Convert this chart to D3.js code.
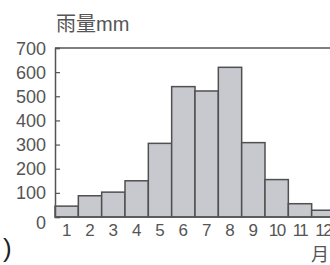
<!DOCTYPE html>
<html>
<head>
<meta charset="utf-8">
<script src="https://cdn.jsdelivr.net/npm/d3@7"></script>
<style>
  body { margin: 0; background: #fff; }
  text { font-family: "Liberation Sans", "Noto Sans CJK JP", sans-serif; fill: #555; }
</style>
</head>
<body>
<div id="chart"></div>
<script>
// monthly rainfall (mm)
var months = ["1","2","3","4","5","6","7","8","9","10","11","12"];
var rain = [45, 88, 103, 150, 305, 540, 522, 620, 308, 155, 55, 28];
var yTicks = [0, 100, 200, 300, 400, 500, 600, 700];

var margin = {top: 48, right: -5, bottom: 48, left: 55},
    W = 330, H = 265,
    width = W - margin.left - margin.right,
    height = H - margin.top - margin.bottom;

var svg = d3.select("#chart").append("svg")
  .attr("width", W).attr("height", H);

var g = svg.append("g")
  .attr("transform", "translate(" + margin.left + "," + margin.top + ")");

var x = d3.scaleBand().domain(months).range([0, width]).padding(0);
var y = d3.scaleLinear().domain([0, 700]).range([height, 0]);

// bars
g.selectAll("rect.bar")
  .data(rain)
  .enter()
  .append("rect")
  .attr("class", "bar")
  .attr("x", function(d, i){ return x(months[i]); })
  .attr("y", function(d){ return y(d); })
  .attr("width", x.bandwidth())
  .attr("height", function(d){ return height - y(d); })
  .style("fill", "#c8c9cf")
  .style("stroke", "#505050")
  .style("stroke-width", 1.5);

// frame: top line, bottom line
g.append("line").attr("x1", 0).attr("x2", width + 10).attr("y1", y(700)).attr("y2", y(700))
  .style("stroke", "#555").style("stroke-width", 1.5);
g.append("line").attr("x1", 0).attr("x2", width + 10).attr("y1", y(0)).attr("y2", y(0))
  .style("stroke", "#555").style("stroke-width", 1.5);

var yAxis = d3.axisLeft(y).tickValues(yTicks).tickSize(-5).tickPadding(9);
var ya = g.append("g").call(yAxis);
ya.select(".domain").style("stroke", "#555").style("stroke-width", 1.5);
ya.selectAll(".tick line").style("stroke", "#555").style("stroke-width", 1.2);
ya.selectAll(".tick text")
  .style("font-size", "18px")
  .style("fill", "#555")
  .attr("dy", function(d){ return d === 0 ? "0.62em" : "0.34em"; });

// month labels
g.selectAll("text.mon")
  .data(months)
  .enter()
  .append("text")
  .attr("class", "mon")
  .attr("x", function(d){ return x(d) + x.bandwidth() / 2; })
  .attr("y", height + 19)
  .attr("text-anchor", "middle")
  .style("font-size", "17px")
  .style("letter-spacing", function(d){ return d.length > 1 ? "-1.5px" : "0px"; })
  .text(function(d){ return d; });

svg.append("text").attr("x", 56).attr("y", 31)
  .style("font-size", "20px")
  .text("雨量mm");

svg.append("text").attr("x", 311).attr("y", 261)
  .style("font-size", "18px")
  .text("月");

svg.append("text").attr("x", 3).attr("y", 257)
  .style("font-size", "26px")
  .style("fill", "#222")
  .text(")");
</script>
</body>
</html>
